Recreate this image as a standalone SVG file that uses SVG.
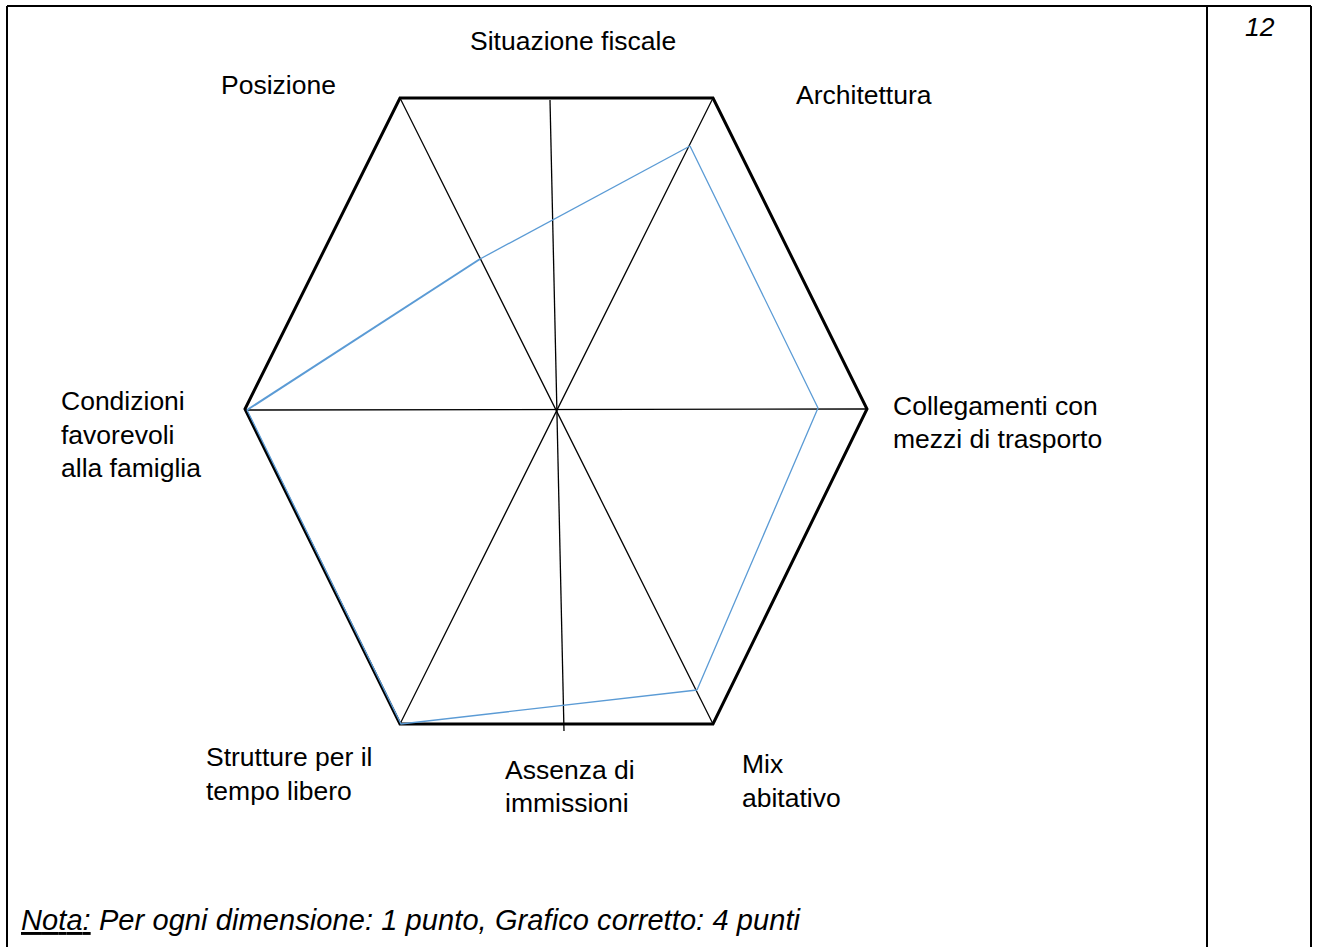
<svg xmlns="http://www.w3.org/2000/svg" width="1317" height="947" viewBox="0 0 1317 947">
  <style>
    .frame { fill: none; stroke: #000; stroke-width: 2; }
    .hex { fill: none; stroke: #000; stroke-width: 3; stroke-linejoin: miter; }
    .axis { stroke: #000; stroke-width: 1.3; fill: none; }
    .score { fill: none; stroke: #5b9bd5; stroke-width: 1.3; }
    .lbl { font-family: "Liberation Sans", Arial, sans-serif; font-size: 26.5px; fill: #000; }
    .it { font-style: italic; }
    .note { font-size: 29px; }
  </style>

  <!-- table frame -->
  <g id="frame">
    <line class="frame" x1="7" y1="6" x2="1311" y2="6"/>
    <line class="frame" x1="7" y1="6" x2="7" y2="947"/>
    <line class="frame" x1="1207" y1="6" x2="1207" y2="947"/>
    <line class="frame" x1="1311" y1="6" x2="1311" y2="947"/>
  </g>

  <g id="page-number">
    <text class="lbl it" x="1245" y="36">12</text>
  </g>

  <!-- radar chart: outer hexagon -->
  <g id="hexagon">
    <polygon class="hex" points="400,98 713,98 867,409 713,724 400,724 245,409"/>
  </g>

  <!-- axes -->
  <g id="axes">
    <line class="axis" x1="400" y1="98" x2="713" y2="724"/>
    <line class="axis" x1="713" y1="98" x2="400" y2="724"/>
    <line class="axis" x1="245" y1="410" x2="866" y2="409"/>
    <line class="axis" x1="550" y1="100" x2="564" y2="731"/>
  </g>

  <!-- score profile -->
  <g id="profile">
    <polyline class="score" points="690,146 818,408 697,690"/>
    <polyline class="score" points="697,690 401,724 247,410"/>
    <polyline class="score" style="stroke-width:2" points="247,410 480,259"/>
    <polyline class="score" points="480,259 690,146"/>
  </g>

  <!-- axis labels -->
  <g id="label-situazione">
    <text class="lbl" x="470" y="50">Situazione fiscale</text>
  </g>
  <g id="label-posizione">
    <text class="lbl" x="221" y="94">Posizione</text>
  </g>
  <g id="label-architettura">
    <text class="lbl" x="796" y="104">Architettura</text>
  </g>
  <g id="label-condizioni">
    <text class="lbl" x="61" y="410">Condizioni</text>
    <text class="lbl" x="61" y="444">favorevoli</text>
    <text class="lbl" x="61" y="477">alla famiglia</text>
  </g>
  <g id="label-collegamenti">
    <text class="lbl" x="893" y="415">Collegamenti con</text>
    <text class="lbl" x="893" y="448">mezzi di trasporto</text>
  </g>
  <g id="label-strutture">
    <text class="lbl" x="206" y="766">Strutture per il</text>
    <text class="lbl" x="206" y="800">tempo libero</text>
  </g>
  <g id="label-assenza">
    <text class="lbl" x="505" y="779">Assenza di</text>
    <text class="lbl" x="505" y="812">immissioni</text>
  </g>
  <g id="label-mix">
    <text class="lbl" x="742" y="773">Mix</text>
    <text class="lbl" x="742" y="807">abitativo</text>
  </g>

  <g id="note">
    <text class="lbl it note" x="21" y="930" textLength="779" lengthAdjust="spacing"><tspan text-decoration="underline">Nota:</tspan> Per ogni dimensione: 1 punto, Grafico corretto: 4 punti</text>
  </g>
</svg>
